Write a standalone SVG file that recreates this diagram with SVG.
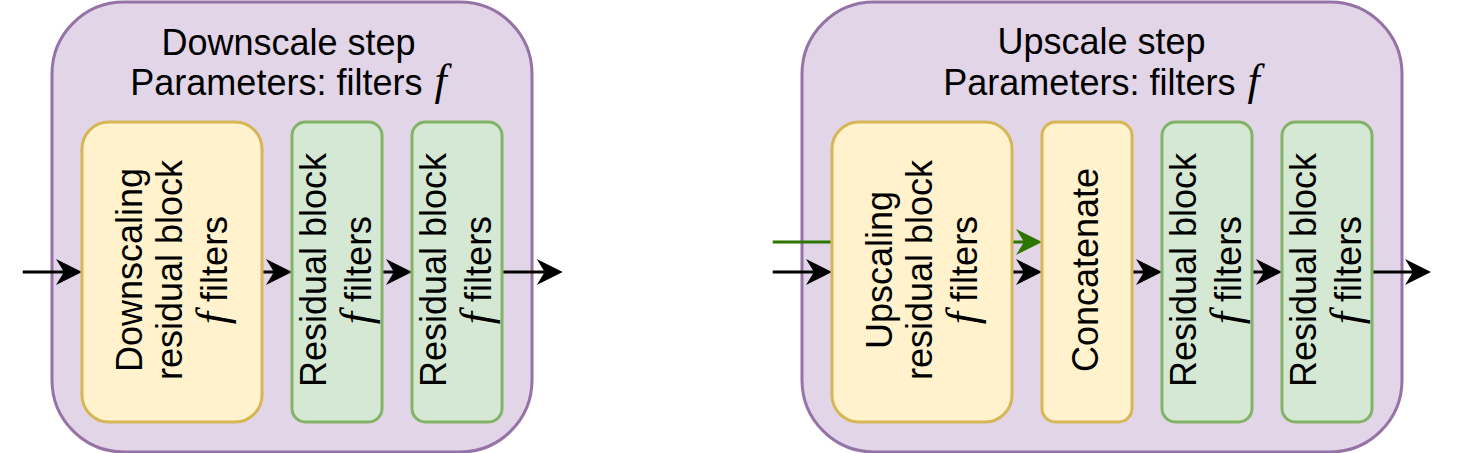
<svg xmlns="http://www.w3.org/2000/svg" width="1458" height="453" viewBox="0 0 1458 453">
  <style>
    .container { fill: #e1d5e7; stroke: #9673a6; stroke-width: 3; }
    .yellow { fill: #fff2cc; stroke: #d6b656; stroke-width: 3; }
    .green { fill: #d5e8d4; stroke: #82b366; stroke-width: 3; }
    text { font-family: "Liberation Sans", Arial, sans-serif; font-size: 36px; fill: #000000; text-anchor: middle; }
    .m { font-family: "Liberation Serif", "DejaVu Serif", serif; font-style: italic; font-size: 44px; }
    .edge { fill: none; stroke: #000000; stroke-width: 3; }
    .edge-green { fill: none; stroke: #2d7600; stroke-width: 3; }
  </style>
  <defs>
    <marker id="arrow" markerUnits="userSpaceOnUse" markerWidth="28" markerHeight="28" refX="8" refY="13" orient="auto" overflow="visible">
      <path d="M0,0 L26,13 L0,26 L8,13 Z" fill="#000000"/>
    </marker>
    <marker id="arrow-green" markerUnits="userSpaceOnUse" markerWidth="28" markerHeight="28" refX="8" refY="13" orient="auto" overflow="visible">
      <path d="M0,0 L26,13 L0,26 L8,13 Z" fill="#2d7600"/>
    </marker>
  </defs>

  <g id="downscale-step">
    <rect class="container" x="52" y="2" width="480" height="450" rx="72" ry="72"/>
    <text x="288.5" y="54.5">Downscale step</text>
    <text x="288.5" y="95">Parameters: filters <tspan class="m" dx="2">f</tspan></text>
  </g>

  <g id="upscale-step">
    <rect class="container" x="802" y="2" width="600" height="450" rx="72" ry="72"/>
    <text x="1101.5" y="54">Upscale step</text>
    <text x="1101.5" y="95">Parameters: filters <tspan class="m" dx="2">f</tspan></text>
  </g>

  <g id="connectors">
    <line class="edge" x1="22.7" y1="272" x2="64" y2="272" marker-end="url(#arrow)"/>
    <line class="edge" x1="262" y1="272" x2="274" y2="272" marker-end="url(#arrow)"/>
    <line class="edge" x1="382" y1="272" x2="394" y2="272" marker-end="url(#arrow)"/>
    <line class="edge" x1="502" y1="272" x2="544.7" y2="272" marker-end="url(#arrow)"/>
    <line class="edge-green" x1="772.7" y1="242" x2="1024" y2="242" marker-end="url(#arrow-green)"/>
    <line class="edge" x1="772.7" y1="272" x2="814" y2="272" marker-end="url(#arrow)"/>
    <line class="edge" x1="1012" y1="272" x2="1024" y2="272" marker-end="url(#arrow)"/>
    <line class="edge" x1="1132" y1="272" x2="1144" y2="272" marker-end="url(#arrow)"/>
    <line class="edge" x1="1252" y1="272" x2="1264" y2="272" marker-end="url(#arrow)"/>
    <line class="edge" x1="1372" y1="272" x2="1413" y2="272" marker-end="url(#arrow)"/>
  </g>

  <g id="downscaling-block">
    <rect class="yellow" x="82" y="122" width="180" height="300" rx="27" ry="27"/>
    <g transform="translate(172,270) rotate(-90)">
      <text x="0" y="-30">Downscaling</text>
      <text x="0" y="10">residual block</text>
      <text x="0" y="55"><tspan class="m">f</tspan> filters</text>
    </g>
  </g>

  <g id="down-residual-1">
    <rect class="green" x="292" y="122" width="90" height="300" rx="13.5" ry="13.5"/>
    <g transform="translate(337,270) rotate(-90)">
      <text x="0" y="-11">Residual block</text>
      <text x="0" y="34"><tspan class="m">f</tspan> filters</text>
    </g>
  </g>

  <g id="down-residual-2">
    <rect class="green" x="412" y="122" width="90" height="300" rx="13.5" ry="13.5"/>
    <g transform="translate(457,270) rotate(-90)">
      <text x="0" y="-11">Residual block</text>
      <text x="0" y="34"><tspan class="m">f</tspan> filters</text>
    </g>
  </g>

  <g id="upscaling-block">
    <rect class="yellow" x="832" y="122" width="180" height="300" rx="27" ry="27"/>
    <g transform="translate(922,270) rotate(-90)">
      <text x="0" y="-30">Upscaling</text>
      <text x="0" y="10">residual block</text>
      <text x="0" y="55"><tspan class="m">f</tspan> filters</text>
    </g>
  </g>

  <g id="concatenate">
    <rect class="yellow" x="1042" y="122" width="90" height="300" rx="13.5" ry="13.5"/>
    <g transform="translate(1087,270) rotate(-90)">
      <text x="0" y="11">Concatenate</text>
    </g>
  </g>

  <g id="up-residual-1">
    <rect class="green" x="1162" y="122" width="90" height="300" rx="13.5" ry="13.5"/>
    <g transform="translate(1207,270) rotate(-90)">
      <text x="0" y="-11">Residual block</text>
      <text x="0" y="34"><tspan class="m">f</tspan> filters</text>
    </g>
  </g>

  <g id="up-residual-2">
    <rect class="green" x="1282" y="122" width="90" height="300" rx="13.5" ry="13.5"/>
    <g transform="translate(1327,270) rotate(-90)">
      <text x="0" y="-11">Residual block</text>
      <text x="0" y="34"><tspan class="m">f</tspan> filters</text>
    </g>
  </g>
</svg>
